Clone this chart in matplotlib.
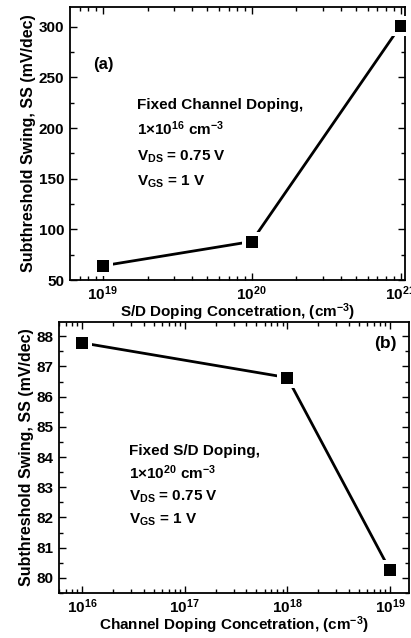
import matplotlib
matplotlib.use("Agg")
import matplotlib.pyplot as plt
from matplotlib.ticker import FixedLocator, FixedFormatter, MultipleLocator, LogLocator, NullFormatter

plt.rcParams['font.family'] = ['Liberation Sans', 'DejaVu Sans']
plt.rcParams['font.weight'] = 'bold'
plt.rcParams['mathtext.fontset'] = 'custom'
plt.rcParams['mathtext.rm'] = 'Liberation Sans:bold'
plt.rcParams['mathtext.bf'] = 'Liberation Sans:bold'
plt.rcParams['mathtext.it'] = 'Liberation Sans:bold:italic'

# Panel (a) data
sd_doping = [1e19, 1e20, 1e21]
ss_a = [64, 88, 301]
xticks_a = [1e19, 1e20, 1e21]
xticklabels_a = [r'$\mathbf{10^{19}}$', r'$\mathbf{10^{20}}$', r'$\mathbf{10^{21}}$']
yticks_a = [50, 100, 150, 200, 250, 300]

# Panel (b) data
ch_doping = [1e16, 1e18, 1e19]
ss_b = [87.78, 86.63, 80.25]
xticks_b = [1e16, 1e17, 1e18, 1e19]
xticklabels_b = [r'$\mathbf{10^{16}}$', r'$\mathbf{10^{17}}$', r'$\mathbf{10^{18}}$', r'$\mathbf{10^{19}}$']
yticks_b = [80, 81, 82, 83, 84, 85, 86, 87, 88]

W, H = 411, 638
fig = plt.figure(figsize=(W/100, H/100), dpi=100)

def ax_at(l, t, r, b):
    return fig.add_axes([l/W, 1-b/H, (r-l)/W, (b-t)/H])

axa = ax_at(70, 7, 405, 280)
axb = ax_at(59, 322, 409, 593)

def style(ax):
    for s in ax.spines.values():
        s.set_linewidth(1.3)
    ax.tick_params(which='both', direction='in', top=True, right=True, width=1.0, labelsize=11, pad=4)
    ax.tick_params(axis='x', which='both', pad=3)
    ax.tick_params(which='major', length=5)
    ax.tick_params(which='minor', length=3)

def draw(ax, x, y):
    ax.plot(x, y, '-', color='black', lw=2.0, zorder=2, clip_on=False)
    ax.plot(x, y, 's', color='white', ms=14, mew=0, zorder=3, clip_on=True)
    ax.plot(x, y, 's', color='black', ms=8.5, mew=0, zorder=4, clip_on=True)

FS = 11

# (a)
draw(axa, sd_doping, ss_a)
axa.set_xscale('log')
axa.set_xlim(10**18.78, 10**21.03)
axa.set_ylim(50, 319.5)
axa.xaxis.set_major_locator(FixedLocator(xticks_a))
axa.xaxis.set_major_formatter(FixedFormatter(xticklabels_a))
axa.xaxis.set_minor_locator(LogLocator(base=10, subs=range(2, 10)))
axa.xaxis.set_minor_formatter(NullFormatter())
axa.yaxis.set_major_locator(FixedLocator(yticks_a))
axa.yaxis.set_minor_locator(MultipleLocator(25))
style(axa)
axa.set_ylabel('Subthreshold Swing, SS (mV/dec)', fontsize=11.5, fontweight='bold', labelpad=2)
axa.set_xlabel(r'S/D Doping Concetration, (cm$^{\mathbf{-3}}$)', fontsize=FS, fontweight='bold', labelpad=-1)
axa.text(0.07, 0.79, '(a)', transform=axa.transAxes, fontsize=12, fontweight='bold', va='center')
axa.text(0.2, 0.64, 'Fixed Channel Doping,', transform=axa.transAxes, fontsize=FS, fontweight='bold', va='center')
axa.text(0.2, 0.555, r'1$\times$10$^{\mathbf{16}}$ cm$^{\mathbf{-3}}$', transform=axa.transAxes, fontsize=FS, fontweight='bold', va='center')
axa.text(0.2, 0.45, r'V$_{\mathbf{DS}}$ = 0.75 V', transform=axa.transAxes, fontsize=FS, fontweight='bold', va='center')
axa.text(0.2, 0.36, r'V$_{\mathbf{GS}}$ = 1 V', transform=axa.transAxes, fontsize=FS, fontweight='bold', va='center')

# (b)
draw(axb, ch_doping, ss_b)
axb.set_xscale('log')
axb.set_xlim(10**15.776, 10**19.185)
axb.set_ylim(79.5, 88.47)
axb.xaxis.set_major_locator(FixedLocator(xticks_b))
axb.xaxis.set_major_formatter(FixedFormatter(xticklabels_b))
axb.xaxis.set_minor_locator(LogLocator(base=10, subs=range(2, 10)))
axb.xaxis.set_minor_formatter(NullFormatter())
axb.yaxis.set_major_locator(FixedLocator(yticks_b))
axb.yaxis.set_minor_locator(MultipleLocator(0.5))
style(axb)
axb.set_ylabel('Subthreshold Swing, SS (mV/dec)', fontsize=11.5, fontweight='bold', labelpad=2)
axb.set_xlabel(r'Channel Doping Concetration, (cm$^{\mathbf{-3}}$)', fontsize=FS, fontweight='bold', labelpad=-1)
axb.text(0.965, 0.92, '(b)', transform=axb.transAxes, fontsize=12.5, fontweight='bold', va='center', ha='right')
axb.text(0.2, 0.525, 'Fixed S/D Doping,', transform=axb.transAxes, fontsize=FS, fontweight='bold', va='center')
axb.text(0.2, 0.445, r'1$\times$10$^{\mathbf{20}}$ cm$^{\mathbf{-3}}$', transform=axb.transAxes, fontsize=FS, fontweight='bold', va='center')
axb.text(0.2, 0.355, r'V$_{\mathbf{DS}}$ = 0.75 V', transform=axb.transAxes, fontsize=FS, fontweight='bold', va='center')
axb.text(0.2, 0.27, r'V$_{\mathbf{GS}}$ = 1 V', transform=axb.transAxes, fontsize=FS, fontweight='bold', va='center')

fig.savefig('out.png', dpi=100)
